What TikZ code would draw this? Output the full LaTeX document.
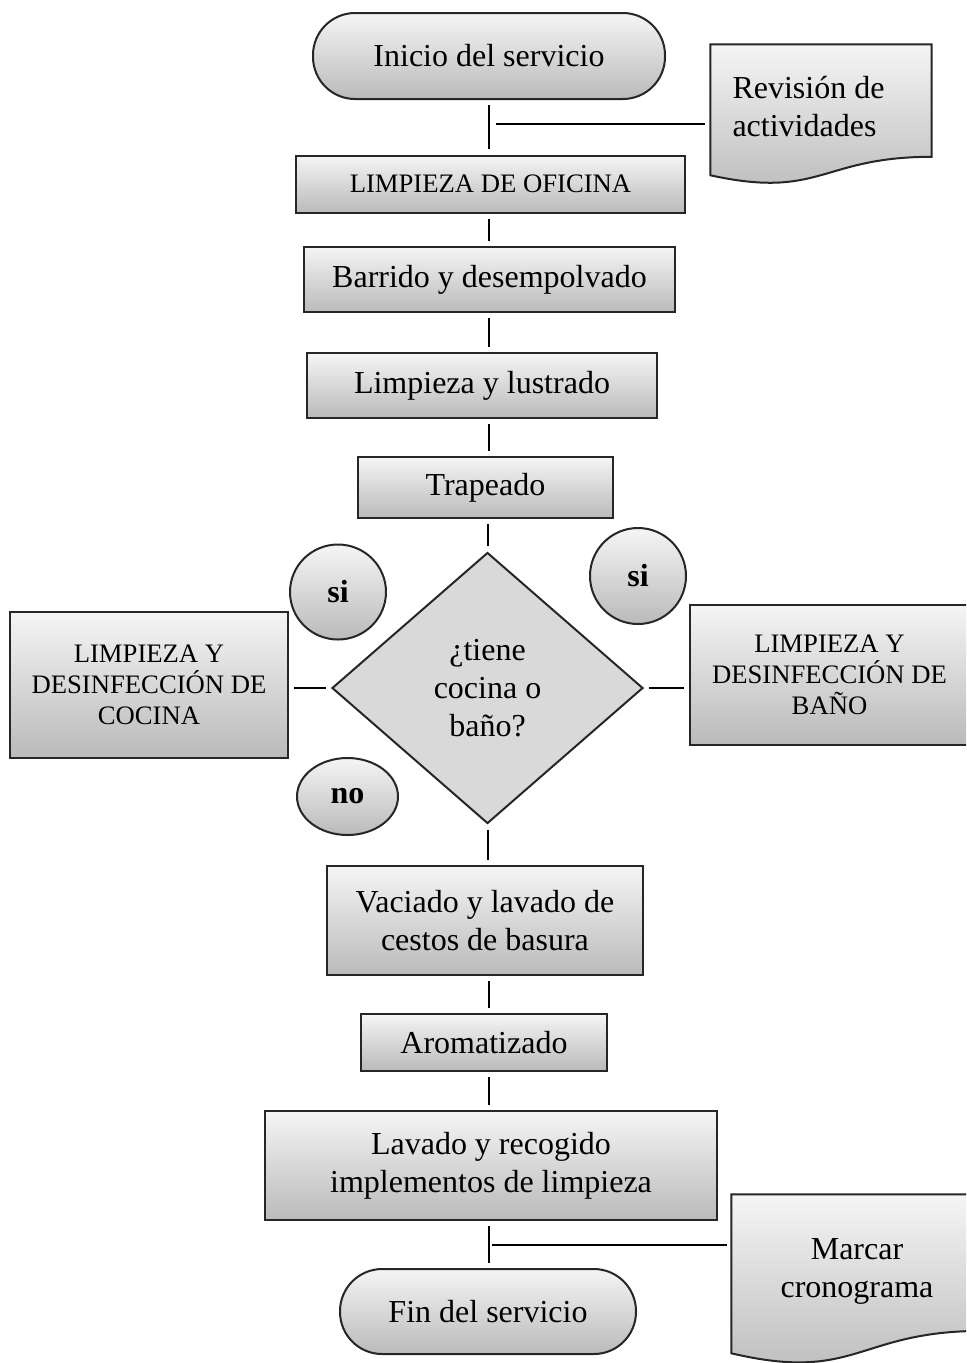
\documentclass[tikz,border=0pt]{standalone}
\usepackage{fontspec}
\setmainfont{Liberation Serif}
\usetikzlibrary{shapes.geometric,calc}

\tikzset{
  wh/.style 2 args={minimum width=#1*0.375pt, minimum height=#2*0.375pt},
  big/.style={font=\fontsize{12}{14.25}\selectfont},
  small/.style={font=\fontsize{10}{11.6}\selectfont},
  grad/.style={top color=black!4, bottom color=black!27},
  outline/.style={draw=black!85, line width=0.75pt},
  proc/.style={rectangle, grad, outline, inner sep=2pt, align=center},
  term/.style={rectangle, rounded corners=15.8pt, grad, outline, inner sep=2pt, big},
  decision/.style={diamond, fill=black!15, outline, inner sep=0pt, align=center, big},
  answer/.style={ellipse, grad, outline, inner sep=0pt, font=\fontsize{12}{14.25}\selectfont\bfseries},
  docframe/.style={rectangle, inner sep=0pt},
  docshape/.style={grad, outline},
  conn/.style={draw=black, line width=0.75pt, shorten <=2pt, shorten >=2pt}
}

\begin{document}
\begin{tikzpicture}[x=0.375pt, y=-0.375pt]
\useasboundingbox (0,0) rectangle (966,1363);
\fill[white] (0,0) rectangle (966,1363);
\clip (0,0) rectangle (966,1363);

% main column
\node[term, wh={352}{86}] (ini) at (489,56) {Inicio del servicio};
\node[proc, small, wh={389}{57}] (ofi) at (490.5,184) {LIMPIEZA DE OFICINA};
\node[proc, big, wh={371}{65}] (bar) at (489.5,279.5) {Barrido y desempolvado};
\node[proc, big, wh={350}{65}] (lus) at (482,385.5) {Limpieza y lustrado};
\node[proc, big, wh={255}{61}] (tra) at (485.5,487.5) {Trapeado};
\node[decision, wh={311}{271}] (dia) at (487.5,688) {¿tiene\\cocina o\\baño?};
\node[proc, big, wh={316}{109}] (vac) at (485,920.5) {Vaciado y lavado de\\cestos de basura};
\node[proc, big, wh={246}{57}] (aro) at (484,1042.5) {Aromatizado};
\node[proc, big, wh={452}{109}] (lav) at (491,1165.5) {Lavado y recogido\\implementos de limpieza};
\node[term, wh={296}{85}] (fin) at (488,1311.5) {Fin del servicio};

% side branches
\node[proc, small, wh={278}{146}] (coc) at (149,685) {LIMPIEZA Y\\DESINFECCIÓN DE\\COCINA};
\node[proc, small, wh={279}{140}] (ban) at (829.5,675) {LIMPIEZA Y\\DESINFECCIÓN DE\\BAÑO};
\node[answer, wh={96}{95}] (si1) at (338,592) {si};
\node[answer, wh={96}{96}] (si2) at (638,576) {si};
\node[answer, wh={101}{77}] (no) at (347.5,796.5) {no};

% document shapes
\node[docframe, wh={220}{139}] (rev) at (821,114.5) {};
\shade[docshape] (rev.north west) -- (rev.north east)
  -- ($(rev.north east)!0.802!(rev.south east)$)
  .. controls ($(rev.north)!0.802!(rev.south)$) and ($(rev.north)!1.1075!(rev.south)$)
  .. ($(rev.north west)!0.934!(rev.south west)$) -- cycle;
\node[big, align=left, anchor=west, inner sep=0pt] (revt) at (732,107) {Revisión de\\actividades};

\node[docframe, wh={250}{169}] (mar) at (857,1279.5) {};
\shade[docshape] (mar.north west) -- (mar.north east)
  -- ($(mar.north east)!0.802!(mar.south east)$)
  .. controls ($(mar.north)!0.802!(mar.south)$) and ($(mar.north)!1.1075!(mar.south)$)
  .. ($(mar.north west)!0.934!(mar.south west)$) -- cycle;
\node[big, align=center, inner sep=0pt] (mart) at (857,1271) {Marcar\\cronograma};

% connectors
\coordinate (spine) at (489,0);
\coordinate (j1) at (489,124);
\coordinate (j2) at (489,1245);
\draw[conn] (ini.south -| spine) -- (ofi.north -| spine);
\draw[conn, shorten <=2.6pt] (j1) -- (rev.west |- j1);
\draw[conn] (ofi.south -| spine) -- (bar.north -| spine);
\draw[conn] (bar.south -| spine) -- (lus.north -| spine);
\draw[conn] (lus.south -| spine) -- (tra.north -| spine);
\draw[conn] (tra.south -| dia.north) -- (dia.north);
\draw[conn] (dia.west) -- (coc.east |- dia.west);
\draw[conn] (dia.east) -- (ban.west |- dia.east);
\draw[conn] (dia.south) -- (vac.north -| dia.south);
\draw[conn] (vac.south -| spine) -- (aro.north -| spine);
\draw[conn] (aro.south -| spine) -- (lav.north -| spine);
\draw[conn] (lav.south -| spine) -- (fin.north -| spine);
\draw[conn, shorten <=1pt, shorten >=1.5pt] (j2) -- (mar.west |- j2);
\end{tikzpicture}
\end{document}
